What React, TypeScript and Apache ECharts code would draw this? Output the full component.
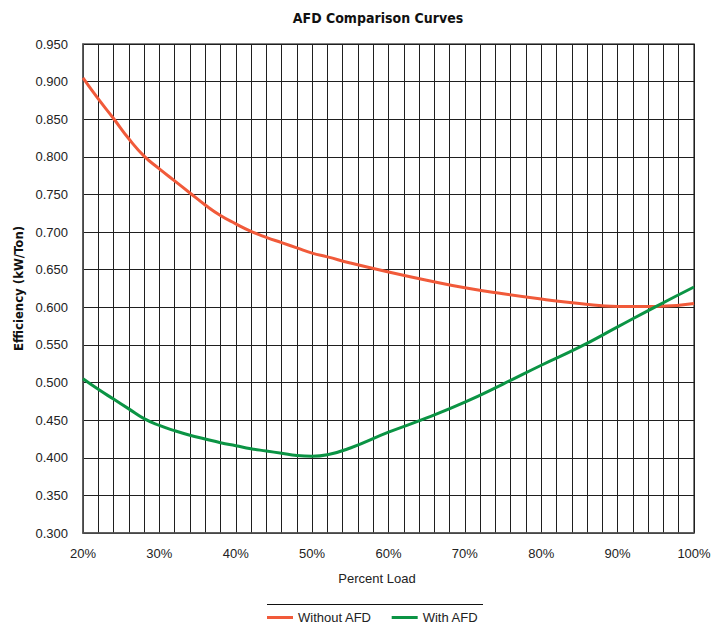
import React, { useEffect, useRef } from "react";
import * as echarts from "echarts";

const loadPct = [20, 22, 24, 26, 28, 30, 32, 34, 36, 38, 40, 42, 44, 46, 48, 50, 52, 55, 60, 65, 70, 75, 80, 85, 90, 95, 100];
const withoutAFD = [0.905, 0.877, 0.851, 0.824, 0.801, 0.784, 0.768, 0.752, 0.736, 0.722, 0.711, 0.701, 0.693, 0.686, 0.679, 0.672, 0.667, 0.659, 0.647, 0.636, 0.626, 0.618, 0.611, 0.605, 0.601, 0.601, 0.605];
const withAFD = [0.505, 0.491, 0.478, 0.465, 0.452, 0.443, 0.436, 0.430, 0.425, 0.420, 0.416, 0.412, 0.409, 0.406, 0.403, 0.402, 0.404, 0.413, 0.434, 0.453, 0.474, 0.498, 0.523, 0.547, 0.574, 0.601, 0.627];
const seriesNames = ["Without AFD", "With AFD"];
const titleText = "AFD Comparison Curves";
const xName = "Percent Load";
const yName = "Efficiency (kW/Ton)";

export default function App() {
  const ref = useRef<HTMLDivElement>(null);
  useEffect(() => {
    if (!ref.current) return;
    const chart = echarts.init(ref.current, null, { renderer: "svg" });
    const gridColor = "#1f1f1f";
    const tickFont = { fontFamily: "Liberation Sans", fontSize: 13, color: "#222" };
    chart.setOption({
      animation: false,
      backgroundColor: "#fff",
      grid: { left: 83, right: 31, top: 44, bottom: 91, show: true, borderColor: "#555", borderWidth: 1.5 },
      graphic: [
        {
          type: "text",
          x: 378,
          y: 18,
          style: {
            text: titleText,
            fontFamily: "DejaVu Sans Condensed",
            fontWeight: "bold",
            fontSize: 14,
            fill: "#111",
            textAlign: "center",
            textVerticalAlign: "middle",
          },
        },
        {
          type: "text",
          x: 377,
          y: 578,
          style: {
            text: xName,
            fontFamily: "Liberation Sans",
            fontSize: 13,
            fill: "#222",
            textAlign: "center",
            textVerticalAlign: "middle",
          },
        },
        {
          type: "line",
          shape: { x1: 267, y1: 604.5, x2: 483, y2: 604.5 },
          style: { stroke: "#111", lineWidth: 1 },
        },
      ],
      legend: {
        data: seriesNames,
        left: 267,
        top: 611,
        padding: 0,
        icon: "rect",
        itemWidth: 26,
        itemHeight: 3,
        itemGap: 20,
        textStyle: { fontFamily: "Liberation Sans", fontSize: 13, color: "#222" },
      },
      xAxis: {
        type: "value",
        min: 20,
        max: 100,
        interval: 10,
        axisLine: { show: true, lineStyle: { color: "#555", width: 1.5 } },
        axisTick: { show: false },
        axisLabel: { ...tickFont, margin: 14, formatter: (v: number) => `${v}%` },
        splitLine: { show: true, lineStyle: { color: gridColor, width: 1 } },
        minorTick: { show: false, splitNumber: 5 },
        minorSplitLine: { show: true, lineStyle: { color: gridColor, width: 1 } },
      },
      yAxis: {
        type: "value",
        min: 0.3,
        max: 0.95,
        interval: 0.05,
        name: yName,
        nameLocation: "middle",
        nameGap: 58,
        nameTextStyle: { fontFamily: "DejaVu Sans Condensed", fontWeight: "bold", fontSize: 13, color: "#111" },
        axisLine: { show: true, lineStyle: { color: "#555", width: 1.5 } },
        axisTick: { show: false },
        axisLabel: { ...tickFont, margin: 15, formatter: (v: number) => v.toFixed(3) },
        splitLine: { show: true, lineStyle: { color: gridColor, width: 1 } },
      },
      series: [
        {
          name: seriesNames[0],
          type: "line",
          data: loadPct.map((x, i) => [x, withoutAFD[i]]),
          smooth: 0.5,
          symbol: "none",
          lineStyle: { color: "#f15a3a", width: 3 },
          itemStyle: { color: "#f15a3a" },
        },
        {
          name: seriesNames[1],
          type: "line",
          data: loadPct.map((x, i) => [x, withAFD[i]]),
          smooth: 0.5,
          symbol: "none",
          lineStyle: { color: "#0b9444", width: 3 },
          itemStyle: { color: "#0b9444" },
        },
      ],
    });
    return () => chart.dispose();
  }, []);
  return <div ref={ref} style={{ position: "fixed", left: 0, top: 0, width: 725, height: 624 }} />;
}
